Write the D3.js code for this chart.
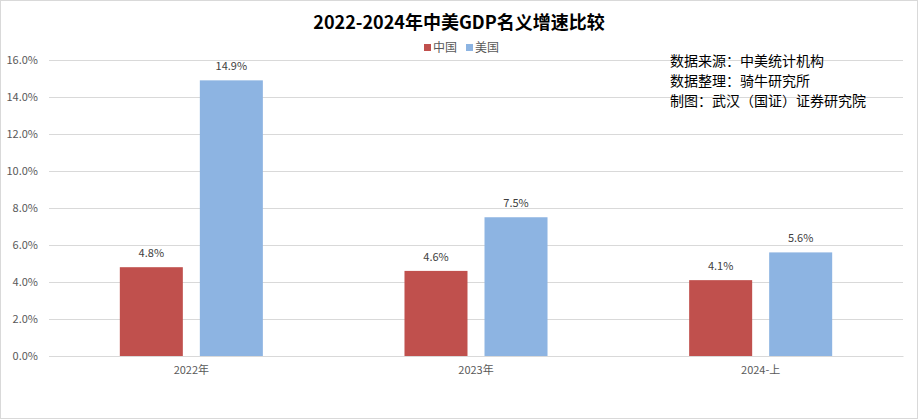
<!DOCTYPE html>
<html><head><meta charset="utf-8">
<script src="https://cdn.jsdelivr.net/npm/d3@7"></script>
<style>body{margin:0;background:#fff;}svg{display:block;}</style>
</head><body>
<svg id="c" width="918" height="419"></svg>
<script>
const categories = ["2022年", "2023年", "2024-上"];
const seriesNames = ["中国", "美国"];
const chinaValues = [4.8, 4.6, 4.1];
const usValues = [14.9, 7.5, 5.6];
const yTicks = [0, 2, 4, 6, 8, 10, 12, 14, 16];
const notes = ["数据来源：中美统计机构", "数据整理：骑牛研究所", "制图：武汉（国证）证券研究院"];
const titleText = "2022-2024年中美GDP名义增速比较";

const colors = ["#C0504D", "#8DB4E2"];
const font = "'Noto Sans CJK SC','Noto Sans',sans-serif";
const svg = d3.select("#c");
svg.append("rect").attr("x",0.5).attr("y",0.5).attr("width",917).attr("height",418)
  .attr("fill","#fff").attr("stroke","#D9D9D9");

const L = 49, R = 903, T = 60, B = 356;
const x0 = d3.scaleBand().domain(categories).range([L, R]).paddingInner(0).paddingOuter(0);
const y = d3.scaleLinear().domain([0, 16]).range([B, T]);
const x1 = d3.scaleBand().domain(seriesNames).range([0, x0.bandwidth()]).paddingInner(0.2125).paddingOuter(0.885);

// grid
const yAxis = d3.axisLeft(y).tickValues(yTicks).tickSize(-(R - L)).tickFormat(d => d.toFixed(1) + "%");
const gy = svg.append("g").attr("transform", `translate(${L},0)`).call(yAxis);
gy.select(".domain").remove();
gy.selectAll(".tick line").attr("stroke", "#D9D9D9");
gy.selectAll(".tick text").attr("x", -11).attr("fill", "#595959").attr("font-size", 11).attr("font-family", font);

const data = categories.map((c, i) => ({c, vals: [chinaValues[i], usValues[i]]}));
const groups = svg.append("g").selectAll("g").data(data).join("g")
  .attr("transform", d => `translate(${x0(d.c)},0)`);
groups.selectAll("rect").data(d => d.vals.map((v, j) => ({v, s: seriesNames[j], j})))
  .join("rect")
  .attr("x", d => x1(d.s)).attr("width", x1.bandwidth())
  .attr("y", d => y(d.v)).attr("height", d => y(0) - y(d.v))
  .attr("fill", d => colors[d.j]);
groups.selectAll("text.lbl").data(d => d.vals.map((v, j) => ({v, s: seriesNames[j], j})))
  .join("text").attr("class", "lbl")
  .attr("x", d => x1(d.s) + x1.bandwidth() / 2).attr("y", d => y(d.v) - 10)
  .attr("text-anchor", "middle").attr("font-size", 11).attr("fill", "#404040").attr("font-family", font)
  .text(d => d.v.toFixed(1) + "%");

// x axis labels
const xAxis = d3.axisBottom(x0).tickSize(0).tickPadding(10);
const gx = svg.append("g").attr("transform", `translate(0,${B})`).call(xAxis);
gx.select(".domain").attr("stroke", "#D9D9D9");
gx.selectAll(".tick text").attr("fill", "#595959").attr("font-size", 11).attr("font-family", font);

// title
svg.append("text").attr("x", 459).attr("y", 29).attr("text-anchor", "middle")
  .attr("font-size", 18).attr("font-weight", "bold").attr("fill", "#000").attr("font-family", font)
  .text(titleText);

// legend
const leg = svg.append("g");
const legX = [424, 466];
seriesNames.forEach((s, i) => {
  leg.append("rect").attr("x", legX[i]).attr("y", 44).attr("width", 7).attr("height", 7).attr("fill", colors[i]);
  leg.append("text").attr("x", legX[i] + 9).attr("y", 52).attr("font-size", 12).attr("fill", "#595959")
    .attr("font-family", font).text(s);
});

// notes
svg.append("g").selectAll("text").data(notes).join("text")
  .attr("x", 670).attr("y", (d, i) => 66 + i * 20)
  .attr("font-size", 14).attr("fill", "#000").attr("font-family", font).text(d => d);
</script>
</body></html>
